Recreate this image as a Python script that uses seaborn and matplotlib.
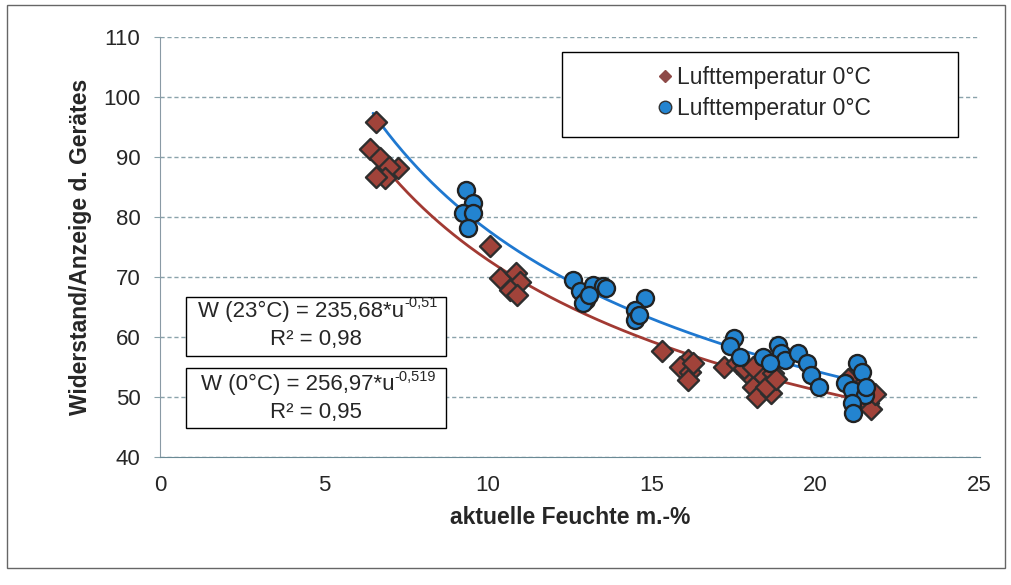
import numpy as np
import pandas as pd
import seaborn as sns
import matplotlib.pyplot as plt
from matplotlib.patches import Rectangle
from matplotlib.lines import Line2D

# Messwerte 23 Grad (rote Rauten)
feuchte_23 = [6.6, 6.4, 6.7, 7.26, 7.0, 6.86, 6.6, 10.06, 10.37, 10.87, 10.98, 10.67, 10.9,
              15.3, 16.1, 15.85, 16.16, 16.1, 16.25,
              17.2, 17.6, 17.9, 18.1, 18.4, 18.7, 18.2, 18.65, 18.5, 17.8, 18.1, 18.8,
              21.0, 21.3, 21.6, 21.7, 21.5, 21.8, 21.4]
widerstand_23 = [95.8, 91.3, 89.8, 88.2, 88.3, 86.5, 86.7, 75.1, 69.8, 70.6, 69.2, 67.8, 67.0,
                 57.6, 56.2, 55.0, 54.2, 52.8, 55.6,
                 55.0, 55.6, 54.0, 51.7, 53.4, 54.0, 50.0, 50.6, 51.7, 54.8, 55.0, 53.0,
                 53.0, 50.0, 49.0, 48.0, 51.5, 50.5, 52.0]

# Messwerte 0 Grad (blaue Punkte)
feuchte_0 = [9.35, 9.55, 9.25, 9.55, 9.4,
             12.6, 12.8, 13.0, 13.2, 13.5, 13.6, 12.9, 13.1,
             14.8, 14.5, 14.5, 14.6,
             17.5, 17.4, 17.7, 18.4, 18.85, 18.95, 19.05, 19.45, 19.75, 19.85, 20.1, 18.6,
             21.25, 21.4, 20.9, 21.1, 21.5, 21.1, 21.15, 21.55]
widerstand_0 = [84.5, 82.3, 80.6, 80.6, 78.2,
                69.5, 67.6, 66.2, 68.7, 68.4, 68.2, 65.6, 67.0,
                66.5, 64.5, 62.8, 63.7,
                59.8, 58.4, 56.7, 56.7, 58.7, 57.3, 56.2, 57.3, 55.6, 53.7, 51.7, 55.6,
                55.6, 54.2, 52.3, 51.2, 50.3, 49.0, 47.3, 51.7]

# Trendlinien W = a*u^b
a_23, b_23 = 235.68, -0.51
a_0, b_0 = 256.97, -0.519
bereich_23 = [6.4, 21.8]
bereich_0 = [6.5, 21.5]

df23 = pd.DataFrame({"Feuchte": feuchte_23, "Widerstand": widerstand_23})
df0 = pd.DataFrame({"Feuchte": feuchte_0, "Widerstand": widerstand_0})

sns.set_style("white")
plt.rcParams['font.family'] = ['Liberation Sans', 'DejaVu Sans']

rot = "#a1433a"
blau = "#2384d0"
rot_linie = "#a23a33"
blau_linie = "#1f78d0"

fig = plt.figure(figsize=(10.12, 5.85), dpi=100)
ax = fig.add_axes([0.158, 0.219, 0.81, 0.718])

# Trendlinien
u23 = np.linspace(bereich_23[0], bereich_23[1], 200)
u0 = np.linspace(bereich_0[0], bereich_0[1], 200)
sns.lineplot(x=u23, y=a_23 * u23 ** b_23, ax=ax, color=rot_linie, linewidth=2, zorder=2)
sns.lineplot(x=u0, y=a_0 * u0 ** b_0, ax=ax, color=blau_linie, linewidth=2, zorder=2)

sns.scatterplot(data=df23, x="Feuchte", y="Widerstand", ax=ax, marker="D", s=115,
                color=rot, edgecolor="#2e2e2e", linewidth=1.7, zorder=3)
sns.scatterplot(data=df0, x="Feuchte", y="Widerstand", ax=ax, marker="o", s=150,
                color=blau, edgecolor="#222222", linewidth=1.7, zorder=4)

ax.set_xlim(0, 25)
ax.set_ylim(40, 110)
ax.set_xticks(range(0, 26, 5))
ax.set_yticks(range(40, 111, 10))
ax.yaxis.grid(True, linestyle=(0, (3, 2)), color="#8aa3ab", linewidth=1)
ax.xaxis.grid(False)
for s in ["top", "right"]:
    ax.spines[s].set_visible(False)
ax.spines["left"].set_linestyle((0, (2, 1)))
ax.spines["left"].set_color("#8a9aa5")
ax.spines["bottom"].set_color("#6a8a95")
ax.tick_params(axis="both", labelsize=16, direction="out", color="#8aa3ab")
ax.tick_params(axis="y", left=True, length=4, pad=10)
ax.tick_params(axis="x", bottom=False, length=0, pad=13)
ax.set_xlabel("aktuelle Feuchte m.-%", fontsize=16.5, fontweight="bold", labelpad=7)
ax.set_ylabel("Widerstand/Anzeige d. Gerätes", fontsize=16.5, fontweight="bold", labelpad=8)

# Legende mit eigenem Rahmen
ax.add_patch(Rectangle((0.490, 0.762), 0.484, 0.202, transform=ax.transAxes,
                       facecolor="white", edgecolor="black", linewidth=1, zorder=5))
handles = [Line2D([], [], marker="D", linestyle="none", color="#8e4a48", markersize=6.5,
                  markeredgecolor="#8e4a48"),
           Line2D([], [], marker="o", linestyle="none", color=blau, markersize=9,
                  markeredgecolor="#333333")]
leg = ax.legend(handles, ["Lufttemperatur 0°C", "Lufttemperatur 0°C"], loc="center",
                bbox_to_anchor=(0.735, 0.866), frameon=False, fontsize=16.5,
                handletextpad=0.0, handlelength=1.0, labelspacing=0.35)
leg.set_zorder(6)

# Formel-Kaesten
ax.add_patch(Rectangle((0.79, 56.8), 7.93, 9.9, facecolor="white", edgecolor="black",
                       linewidth=1, zorder=5))
ax.add_patch(Rectangle((0.79, 44.8), 7.93, 10.0, facecolor="white", edgecolor="black",
                       linewidth=1, zorder=5))

formeln = [("W (23°C) = 235,68*u", "-0,51", 4.3, 64.25, "R² = 0,98", 59.6),
           ("W (0°C) = 256,97*u", "-0,519", 4.2, 52.0, "R² = 0,95", 47.4)]
for haupt, hoch, xm, y1, r2, y2 in formeln:
    t = ax.text(xm, y1, haupt, ha="center", va="center", fontsize=16, zorder=6)
    ax.annotate(hoch, xy=(1.0, 0.55), xycoords=t, ha="left", va="bottom",
                fontsize=10.5, zorder=6)
    ax.text(4.76, y2, r2, ha="center", va="center", fontsize=16, zorder=6)

# Rahmen um das Bild
fig.patches.append(Rectangle((0.007, 0.029), 0.986, 0.962, transform=fig.transFigure,
                             fill=False, edgecolor="#666666", linewidth=1))

fig.savefig("out.png", dpi=100)
